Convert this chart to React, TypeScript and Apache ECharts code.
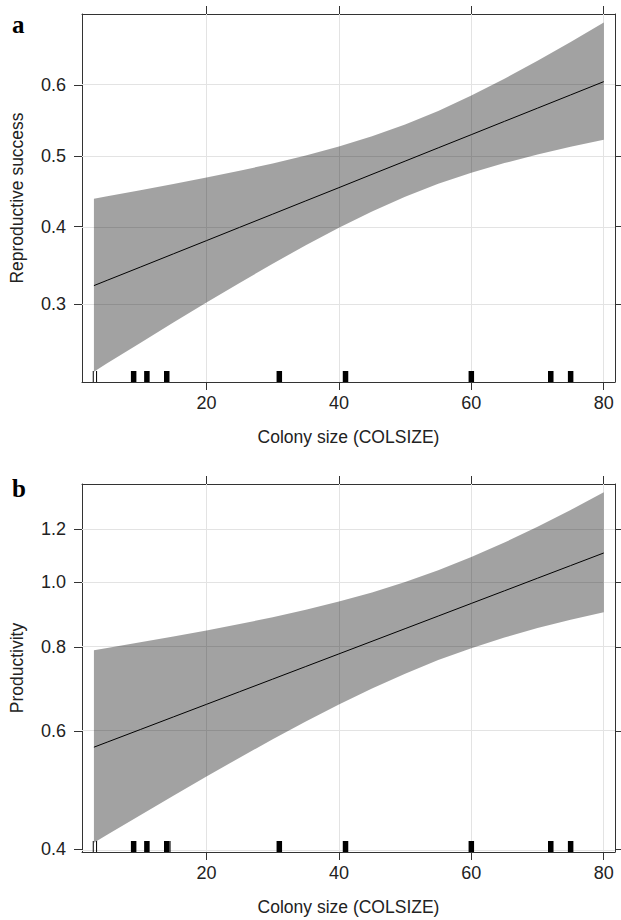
import React, { useEffect, useRef } from "react";
import * as echarts from "echarts";

// ---- data ----
const colonySize = [3, 5, 10, 15, 20, 25, 30, 35, 40, 45, 50, 55, 60, 65, 70, 75, 80];

const successFit = [0.3223, 0.329, 0.3459, 0.3633, 0.381, 0.3991, 0.4174, 0.436, 0.4547, 0.4737, 0.4926, 0.5116, 0.5305, 0.5494, 0.5681, 0.5866, 0.6049];
const successLower = [0.2251, 0.2335, 0.2551, 0.2779, 0.3015, 0.3257, 0.3503, 0.3748, 0.3986, 0.4212, 0.4418, 0.4601, 0.476, 0.4898, 0.502, 0.5131, 0.5232];
const successUpper = [0.4391, 0.4424, 0.4509, 0.4598, 0.469, 0.4788, 0.4892, 0.5007, 0.5135, 0.5281, 0.545, 0.5642, 0.5857, 0.6089, 0.6331, 0.6578, 0.6823];

const productivityFit = [0.5672, 0.5771, 0.6026, 0.6293, 0.6571, 0.6862, 0.7165, 0.7482, 0.7813, 0.8159, 0.852, 0.8897, 0.9291, 0.9702, 1.0132, 1.058, 1.1048];
const productivityLower = [0.4087, 0.42, 0.4492, 0.4802, 0.5129, 0.5471, 0.5827, 0.6194, 0.6567, 0.6938, 0.7301, 0.7648, 0.7969, 0.8265, 0.8537, 0.8785, 0.9017];
const productivityUpper = [0.7915, 0.7975, 0.813, 0.8293, 0.8467, 0.8655, 0.8861, 0.909, 0.9349, 0.9649, 0.9998, 1.041, 1.0892, 1.1451, 1.209, 1.281, 1.361];

const rugMulti = [9, 11, 14, 31, 41, 60, 72, 75];
const rugSingleA = [2.9, 3.4];
const rugSingleB = [2.9, 3.4, 14.5];

const xTicks = [20, 40, 60, 80];
const successTicks = [0.3, 0.4, 0.5, 0.6];
const productivityTicks = [0.4, 0.6, 0.8, 1.0, 1.2];

const xRange = [1.2, 81.7];
const successRange = [0.2149, 0.6929];
const productivityRange = [0.3958, 1.4];

const logit = (p: number) => Math.log(p / (1 - p));
const invLogit = (v: number) => 1 / (1 + Math.exp(-v));
const logE = (p: number) => Math.log(p);
const expE = (v: number) => Math.exp(v);

const FONT = "'Liberation Sans', Arial, sans-serif";
const AXIS_COLOR = "#333";
const TEXT_COLOR = "#222";

type Panel = {
  grid: number;
  t: (v: number) => number;
  inv: (v: number) => number;
  fit: number[];
  lower: number[];
  upper: number[];
  ticks: number[];
  range: number[];
  rugSingle: number[];
  yName: string;
};

function buildPanel(p: Panel) {
  const xb = p.grid * 2;
  const yl = p.grid * 2;
  const tTicks = p.ticks.map(p.t);
  const yMin = p.t(p.range[0]);
  const yMax = p.t(p.range[1]);
  const lineStyle = { color: AXIS_COLOR, width: 1 };

  const xAxes = [
    {
      gridIndex: p.grid,
      type: "value",
      position: "bottom",
      min: xRange[0],
      max: xRange[1],
      axisLine: { show: true, onZero: false, lineStyle },
      axisTick: { show: true, length: 8, customValues: xTicks, lineStyle },
      axisLabel: {
        show: true,
        customValues: xTicks,
        fontSize: 18,
        color: TEXT_COLOR,
        fontFamily: FONT,
        margin: 12,
      },
      splitLine: { show: false },
      name: "Colony size (COLSIZE)",
      nameLocation: "middle",
      nameGap: 46,
      nameTextStyle: { fontSize: 17.5, color: TEXT_COLOR, fontFamily: FONT },
    },
    {
      gridIndex: p.grid,
      type: "value",
      position: "top",
      min: xRange[0],
      max: xRange[1],
      axisLine: { show: true, onZero: false, lineStyle },
      axisTick: { show: true, length: 8, customValues: xTicks, lineStyle },
      axisLabel: { show: false, customValues: xTicks },
      splitLine: { show: false },
    },
  ];

  const yAxes = [
    {
      gridIndex: p.grid,
      type: "value",
      position: "left",
      min: yMin,
      max: yMax,
      axisLine: { show: true, onZero: false, lineStyle },
      axisTick: { show: true, length: 8, customValues: tTicks, lineStyle },
      axisLabel: {
        show: true,
        customValues: tTicks,
        formatter: (v: number) => p.inv(v).toFixed(1),
        fontSize: 18,
        color: TEXT_COLOR,
        fontFamily: FONT,
        margin: 16,
      },
      splitLine: { show: false },
      name: p.yName,
      nameLocation: "middle",
      nameGap: 56,
      nameRotate: 90,
      nameTextStyle: { fontSize: 17.5, color: TEXT_COLOR, fontFamily: FONT },
    },
    {
      gridIndex: p.grid,
      type: "value",
      position: "right",
      min: yMin,
      max: yMax,
      axisLine: { show: true, onZero: false, lineStyle },
      axisTick: { show: true, length: 8, customValues: tTicks, lineStyle },
      axisLabel: { show: false, customValues: tTicks },
      splitLine: { show: false },
    },
  ];

  const bandData = colonySize.map((x, k) => [x, p.t(p.lower[k]), p.t(p.upper[k])]);

  const series = [
    {
      type: "custom",
      xAxisIndex: xb,
      yAxisIndex: yl,
      z: 2,
      silent: true,
      data: bandData,
      encode: { x: 0, y: [1, 2] },
      renderItem: (params: any, api: any) => {
        if (params.dataIndex !== 0) return null;
        const up = bandData.map((d) => api.coord([d[0], d[2]]));
        const lo = bandData.map((d) => api.coord([d[0], d[1]])).reverse();
        return {
          type: "polygon",
          shape: { points: up.concat(lo) },
          style: { fill: "rgba(0,0,0,0.365)" },
          silent: true,
        };
      },
      markLine: {
        silent: true,
        z: 1,
        symbol: ["none", "none"],
        label: { show: false },
        emphasis: { disabled: true },
        lineStyle: { color: "#e3e3e3", width: 1, type: "solid" },
        data: [
          ...xTicks.map((v) => ({ xAxis: v })),
          ...tTicks.map((v) => ({ yAxis: v })),
        ],
      },
    },
    {
      type: "line",
      xAxisIndex: xb,
      yAxisIndex: yl,
      z: 3,
      silent: true,
      symbol: "none",
      lineStyle: { color: "#000", width: 1 },
      data: colonySize.map((x, k) => [x, p.t(p.fit[k])]),
    },
    {
      type: "scatter",
      xAxisIndex: xb,
      yAxisIndex: yl,
      z: 4,
      silent: true,
      clip: false,
      symbol: "rect",
      symbolSize: [5.5, 11],
      symbolOffset: [0, -5.5],
      itemStyle: { color: "#000", opacity: 1 },
      data: rugMulti.map((x) => [x, yMin]),
    },
    {
      type: "scatter",
      xAxisIndex: xb,
      yAxisIndex: yl,
      z: 4,
      silent: true,
      clip: false,
      symbol: "rect",
      symbolSize: [1, 11],
      symbolOffset: [0, -5.5],
      itemStyle: { color: "#000", opacity: 1 },
      data: p.rugSingle.map((x) => [x, yMin]),
    },
  ];

  return { xAxes, yAxes, series };
}

export default function App() {
  const ref = useRef<HTMLDivElement>(null);

  useEffect(() => {
    if (!ref.current) return;
    const chart = echarts.init(ref.current, undefined, { renderer: "svg" });

    const a = buildPanel({
      grid: 0,
      t: logit,
      inv: invLogit,
      fit: successFit,
      lower: successLower,
      upper: successUpper,
      ticks: successTicks,
      range: successRange,
      rugSingle: rugSingleA,
      yName: "Reproductive success",
    });
    const b = buildPanel({
      grid: 1,
      t: logE,
      inv: expE,
      fit: productivityFit,
      lower: productivityLower,
      upper: productivityUpper,
      ticks: productivityTicks,
      range: productivityRange,
      rugSingle: rugSingleB,
      yName: "Productivity",
    });

    chart.setOption({
      animation: false,
      backgroundColor: "#fff",
      grid: [
        { left: 82, top: 14, width: 533, height: 368, containLabel: false },
        { left: 82, top: 484, width: 533, height: 368, containLabel: false },
      ],
      xAxis: [...a.xAxes, ...b.xAxes],
      yAxis: [...a.yAxes, ...b.yAxes],
      series: [...a.series, ...b.series],
      graphic: [
        {
          type: "text",
          left: 12,
          top: 12,
          style: {
            text: "a",
            font: "bold 25px 'Liberation Serif', 'Times New Roman', serif",
            fill: "#000",
          },
        },
        {
          type: "text",
          left: 12,
          top: 476,
          style: {
            text: "b",
            font: "bold 25px 'Liberation Serif', 'Times New Roman', serif",
            fill: "#000",
          },
        },
      ],
    });

    return () => chart.dispose();
  }, []);

  return (
    <div
      ref={ref}
      style={{ position: "absolute", left: 0, top: 0, width: 621, height: 920, background: "#fff" }}
    />
  );
}
